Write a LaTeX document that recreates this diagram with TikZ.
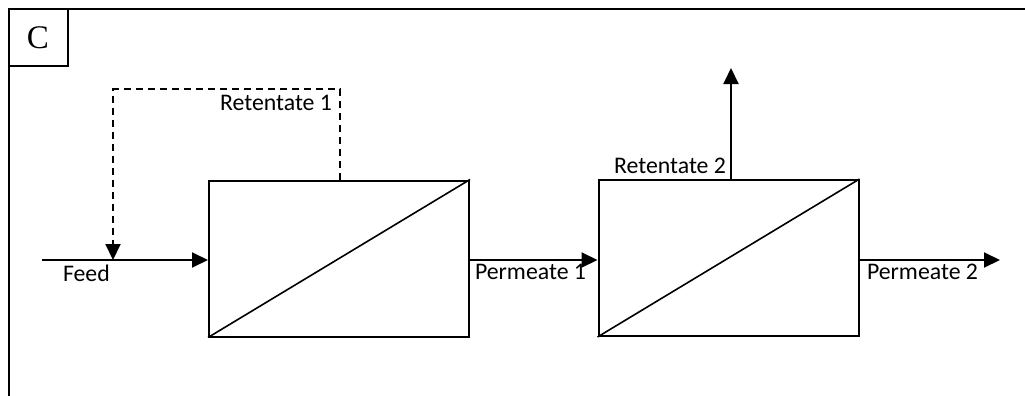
\documentclass[tikz,border=0pt]{standalone}
\usepackage{fontspec}
\setmainfont{Carlito}
\newfontfamily\labelserif{Liberation Serif}
\usetikzlibrary{arrows.meta,calc}
\begin{document}
\begin{tikzpicture}[x=1pt,y=-1pt,
  line width=2pt,
  membrane/.style={draw,line width=2pt,minimum width=260pt,minimum height=156pt,inner sep=0pt},
  flow/.style={-{Triangle[length=16pt,width=15pt]}},
  recycle/.style={flow,dash pattern=on 7pt off 5pt},
  lbl/.style={font=\fontsize{23.8}{27}\selectfont,inner sep=0pt},
  tag/.style={draw,line width=2pt,minimum width=59pt,minimum height=57pt,inner sep=0pt,font=\labelserif\fontsize{33}{36}\selectfont}]
  \useasboundingbox (0,0) rectangle (1025,396);

  % outer frame (top and left edges) and panel tag
  \draw (9,9) -- (1025,9);
  \draw (9,9) -- (9,396);
  \node[tag] (tagC) at (38,37.5) {C};

  % membrane modules
  \node[membrane] (m1) at (339,258.5) {};
  \draw[line width=1.6pt] (m1.south west) -- (m1.north east);
  \node[membrane] (m2) at (728.5,258) {};
  \draw[line width=1.6pt] (m2.south west) -- (m2.north east);

  % free ends of the streams
  \coordinate (feedin) at (42,260);
  \coordinate (p2out) at (1000,260);
  \coordinate (r2out) at (731,68);
  \coordinate (r1top) at (340,89);
  \coordinate (r1left) at (113,89);

  % streams
  \draw[flow] (feedin) -- (m1.west |- feedin);
  \draw[flow] (m1.east |- feedin) -- (m2.west |- feedin);
  \draw[flow] (m2.east |- feedin) -- (p2out);
  \draw[flow] (r2out |- m2.north) -- (r2out);
  \draw[recycle] (r1top |- m1.north) -- (r1top) -- (r1left) -- (r1left |- feedin);

  % stream labels
  \node[lbl,anchor=west] (lfeed) at (62,273) {Feed};
  \node[lbl,anchor=east] (lr1) at (333,103) {Retentate 1};
  \node[lbl,anchor=west] (lp1) at (474,272) {Permeate 1};
  \node[lbl,anchor=east] (lr2) at (727,166) {Retentate 2};
  \node[lbl,anchor=west] (lp2) at (866,272) {Permeate 2};
\end{tikzpicture}
\end{document}
